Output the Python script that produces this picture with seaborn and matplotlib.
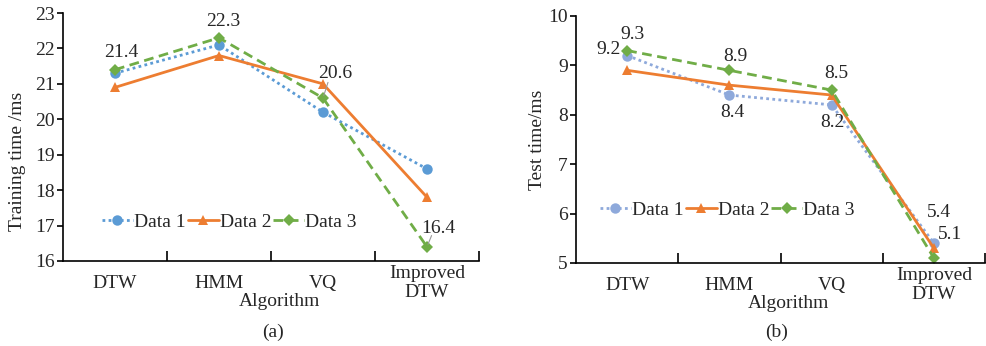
import numpy as np
import pandas as pd
import matplotlib
matplotlib.use('Agg')
import matplotlib.pyplot as plt
import seaborn as sns

# ============================================================
# DATA
# ============================================================
algorithms = ['DTW', 'HMM', 'VQ', 'Improved\nDTW']
series_names = ['Data 1', 'Data 2', 'Data 3']

train_data1 = [21.3, 22.1, 20.2, 18.6]
train_data2 = [20.9, 21.8, 21.0, 17.8]
train_data3 = [21.4, 22.3, 20.6, 16.4]

test_data1 = [9.2, 8.4, 8.2, 5.4]
test_data2 = [8.9, 8.6, 8.4, 5.3]
test_data3 = [9.3, 8.9, 8.5, 5.1]

# labelled points: (series index, category index, text offset in px, leader)
train_labels = [(2, 0, (6, 17), False), (2, 1, (4, 16), False),
                (2, 2, (12, 25), True), (2, 3, (11, 18), True)]
test_labels = [(2, 0, (5, 16), False), (0, 0, (-19, 6), False),
               (2, 1, (6, 14), False), (0, 1, (3, -17), False),
               (2, 2, (5, 17), False), (0, 2, (1, -18), False),
               (0, 3, (5, 31), False), (2, 3, (16, 24), False)]

# ============================================================
# STYLE
# ============================================================
sns.set_theme(style='ticks')
plt.rcParams['font.family'] = ['Liberation Serif', 'DejaVu Serif']
FS = 14

ORANGE = '#ED7D31'
GREEN = '#70AD47'
STYLES = [dict(linestyle=(0, (1, 1.2)), marker='o', markersize=7.5),
          dict(linestyle='-', marker='^', markersize=7.5),
          dict(linestyle=(0, (3.5, 2)), marker='D', markersize=6.5)]


def make_long(v1, v2, v3):
    rows = []
    for name, vals in zip(series_names, [v1, v2, v3]):
        for i, v in enumerate(vals):
            rows.append({'pos': i, 'value': v, 'series': name})
    return pd.DataFrame(rows)


def draw_panel(ax, df, colors, ylim, ylabel, ylabel_xy, labels, legend_xy):
    for k, name in enumerate(series_names):
        sub = df[df['series'] == name]
        sns.lineplot(data=sub, x='pos', y='value', ax=ax, color=colors[k],
                     linewidth=2.0, label=name, markeredgewidth=0,
                     **STYLES[k])

    ax.set_xlim(-0.5, 3.5)
    ax.set_ylim(*ylim)
    ax.set_yticks(np.arange(ylim[0], ylim[1] + 1, 1))
    ax.set_xticks(range(len(algorithms)))
    ax.set_xticklabels(algorithms, fontsize=FS, linespacing=1.15)
    for lbl in ax.get_xticklabels():
        lbl.set_va('center')
    ax.set_xticks([0.5, 1.5, 2.5, 3.5], minor=True)
    ax.tick_params(axis='x', which='major', length=0, pad=16)
    ax.tick_params(axis='x', which='minor', direction='in', length=7,
                   width=1.2, color='black')
    ax.tick_params(axis='y', direction='out', length=4, width=1.2,
                   labelsize=FS, pad=2, color='black')
    for s in ['top', 'right']:
        ax.spines[s].set_visible(False)
    for s in ['left', 'bottom']:
        ax.spines[s].set_linewidth(1.2)
        ax.spines[s].set_color('black')

    ax.set_ylabel(ylabel, fontsize=FS, va='center')
    ax.yaxis.set_label_coords(*ylabel_xy)
    ax.set_xlabel('Algorithm', fontsize=FS, va='center')
    ax.xaxis.set_label_coords(0.52, -0.165)

    vals = [df[df['series'] == n]['value'].tolist() for n in series_names]
    for k, i, (dx, dy), leader in labels:
        v = vals[k][i]
        ax.annotate(f'{v:.1f}', xy=(i, v), xytext=(dx * 0.72, dy * 0.72),
                    textcoords='offset points', ha='center', va='center',
                    fontsize=FS)
        if leader:
            ax.annotate('', xy=(i, v), xytext=(dx * 0.3, dy * 0.45),
                        textcoords='offset points',
                        arrowprops=dict(arrowstyle='-', color='#999999',
                                        lw=0.8, shrinkA=0, shrinkB=2))

    ax.legend(loc='center', bbox_to_anchor=legend_xy, ncol=3, frameon=False,
              fontsize=FS, handlelength=1.6, handletextpad=0.05,
              columnspacing=0.1, borderpad=0)


# ============================================================
# FIGURE
# ============================================================
fig = plt.figure(figsize=(9.87, 3.46), dpi=100)
ax1 = fig.add_axes([0.0638, 0.2457, 0.4215, 0.7167])
ax2 = fig.add_axes([0.5836, 0.2399, 0.4144, 0.7139])

train_df = make_long(train_data1, train_data2, train_data3)
test_df = make_long(test_data1, test_data2, test_data3)

draw_panel(ax1, train_df, ['#5B9BD5', ORANGE, GREEN], (16, 23),
           'Training time /ms', (-0.11, 0.40), train_labels, (0.40, 0.157))
draw_panel(ax2, test_df, ['#8EA9DB', ORANGE, GREEN], (5, 10),
           'Test time/ms', (-0.095, 0.5), test_labels, (0.37, 0.215))

fig.text(0.277, 0.040, '(a)', ha='center', va='center', fontsize=FS)
fig.text(0.787, 0.040, '(b)', ha='center', va='center', fontsize=FS)

fig.savefig('out.png', dpi=100, facecolor='white')
